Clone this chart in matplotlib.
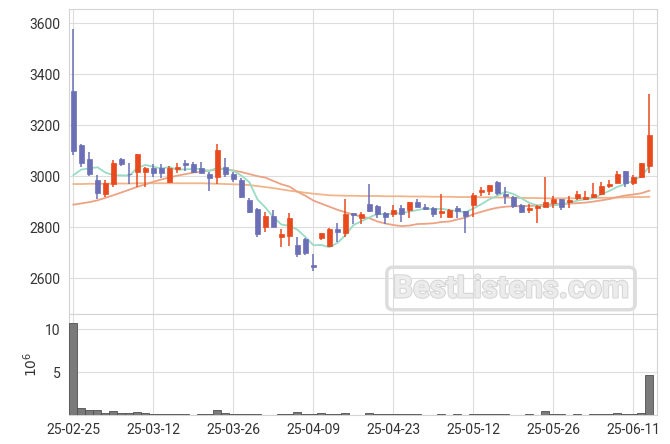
import numpy as np
import matplotlib.pyplot as plt
import matplotlib.patheffects as pe

plt.rcParams['font.family'] = ['Roboto', 'DejaVu Sans']

# trading days (yy-mm-dd)
dates = ['25-02-25', '25-02-26', '25-02-27', '25-02-28',
         '25-03-04', '25-03-05', '25-03-06', '25-03-07', '25-03-10', '25-03-11',
         '25-03-12', '25-03-13', '25-03-14', '25-03-17', '25-03-18', '25-03-19',
         '25-03-20', '25-03-21', '25-03-24', '25-03-25', '25-03-26', '25-03-27',
         '25-03-28', '25-03-31',
         '25-04-01', '25-04-02', '25-04-03', '25-04-04', '25-04-07', '25-04-08',
         '25-04-09', '25-04-10', '25-04-11', '25-04-14', '25-04-15', '25-04-16',
         '25-04-17', '25-04-18', '25-04-21', '25-04-22', '25-04-23', '25-04-24',
         '25-04-25', '25-04-28', '25-04-29', '25-04-30',
         '25-05-02', '25-05-07', '25-05-08', '25-05-09', '25-05-12', '25-05-13',
         '25-05-14', '25-05-15', '25-05-16', '25-05-19', '25-05-20', '25-05-21',
         '25-05-22', '25-05-23', '25-05-26', '25-05-27', '25-05-28', '25-05-29',
         '25-05-30',
         '25-06-02', '25-06-04', '25-06-05', '25-06-09', '25-06-10', '25-06-11',
         '25-06-12', '25-06-13']

opens = [3334, 3121, 3067, 2984, 2929, 2969, 3067, 3010, 3017, 3017,
         3033, 3033, 2978, 3028, 3052, 3047, 3030, 3008, 2997, 3034,
         3008, 2984, 2906, 2871, 2802, 2844, 2760, 2765, 2730, 2753,
         2651, 2756, 2726, 2792, 2778, 2854, 2837, 2890, 2882, 2854,
         2850, 2873, 2867, 2897, 2880, 2873, 2854, 2838, 2876, 2863,
         2886, 2939, 2942, 2976, 2931, 2919, 2886, 2867, 2874, 2880,
         2895, 2910, 2897, 2915, 2910, 2919, 2928, 2961, 2975, 3020,
         2975, 2997, 3040]
highs = [3576, 3125, 3095, 3004, 2984, 3063, 3072, 3050, 3088, 3035,
         3046, 3046, 3040, 3050, 3063, 3056, 3054, 3017, 3128, 3073,
         3017, 2991, 2913, 2875, 2858, 2867, 2791, 2854, 2760, 2757,
         2694, 2778, 2795, 2817, 2909, 2856, 2860, 2971, 2885, 2860,
         2886, 2886, 2900, 2909, 2889, 2877, 2928, 2872, 2882, 2865,
         2932, 2958, 2967, 2982, 2958, 2922, 2890, 2890, 2886, 2997,
         2923, 2912, 2923, 2941, 2941, 2975, 2978, 2984, 3020, 3020,
         3004, 3050, 3322]
lows = [3082, 3037, 3000, 2910, 2918, 2958, 3040, 2971, 2958, 2958,
        2997, 2991, 2975, 3011, 3021, 3011, 3011, 2942, 2971, 2997,
        2978, 2913, 2854, 2762, 2782, 2800, 2723, 2726, 2684, 2690,
        2629, 2749, 2723, 2742, 2762, 2812, 2811, 2860, 2835, 2811,
        2841, 2821, 2834, 2878, 2867, 2841, 2834, 2834, 2834, 2776,
        2841, 2922, 2926, 2926, 2889, 2876, 2854, 2854, 2815, 2878,
        2873, 2867, 2873, 2906, 2906, 2916, 2926, 2954, 2973, 2958,
        2965, 2991, 3011]
closes = [3098, 3052, 3010, 2935, 2974, 3050, 3046, 3007, 3086, 3033,
          3013, 3013, 3033, 3034, 3044, 3017, 3013, 2991, 3102, 3007,
          2990, 2919, 2860, 2771, 2844, 2802, 2773, 2837, 2693, 2699,
          2645, 2775, 2792, 2779, 2850, 2846, 2850, 2864, 2850, 2838,
          2869, 2850, 2897, 2880, 2871, 2851, 2863, 2869, 2863, 2845,
          2926, 2945, 2965, 2935, 2922, 2884, 2860, 2876, 2884, 2897,
          2910, 2880, 2906, 2929, 2919, 2929, 2963, 2971, 3007, 2975,
          2997, 3050, 3161]

ma5 = [3004, 3026, 3030, 3035, 3014, 3004, 3003, 3002, 3033, 3044,
       3037, 3030, 3036, 3025, 3027, 3028, 3028, 3020, 3033, 3026,
       3021, 3002, 2976, 2909, 2877, 2839, 2810, 2805, 2790, 2761,
       2729, 2730, 2721, 2738, 2768, 2808, 2823, 2838, 2852, 2850,
       2854, 2854, 2861, 2867, 2873, 2870, 2872, 2867, 2863, 2858,
       2873, 2890, 2909, 2923, 2939, 2930, 2913, 2895, 2885, 2880,
       2885, 2889, 2895, 2904, 2909, 2913, 2929, 2942, 2958, 2969,
       2983, 3000, 3038]
ma20 = [2888, 2893, 2898, 2905, 2915, 2925, 2936, 2947, 2958, 2968,
        2978, 2987, 2995, 3002, 3008, 3014, 3018, 3022, 3027, 3028,
        3022, 3016, 3008, 3000, 2994, 2981, 2968, 2959, 2939, 2923,
        2904, 2892, 2880, 2868, 2858, 2849, 2841, 2835, 2822, 2814,
        2808, 2804, 2806, 2812, 2813, 2815, 2820, 2822, 2830, 2837,
        2851, 2860, 2869, 2876, 2880, 2882, 2882, 2883, 2885, 2888,
        2890, 2891, 2892, 2894, 2896, 2900, 2905, 2910, 2918, 2924,
        2928, 2933, 2943]
ma60 = [2969, 2969, 2970, 2970, 2970, 2971, 2971, 2971, 2972, 2972,
        2972, 2972, 2972, 2972, 2972, 2972, 2972, 2971, 2970, 2969,
        2968, 2967, 2965, 2961, 2957, 2953, 2948, 2943, 2939, 2935,
        2931, 2928, 2925, 2924, 2923, 2923, 2922, 2922, 2922, 2921,
        2921, 2921, 2920, 2920, 2920, 2919, 2919, 2919, 2918, 2918,
        2918, 2917, 2917, 2916, 2916, 2915, 2915, 2914, 2914, 2913,
        2913, 2913, 2913, 2913, 2914, 2914, 2915, 2915, 2916, 2917,
        2918, 2918, 2919]

# volume, millions
volume = [10.7, 0.8, 0.6, 0.6, 0.25, 0.5, 0.25, 0.25, 0.35, 0.25,
          0.1, 0.1, 0.1, 0.1, 0.1, 0.0, 0.1, 0.1, 0.6, 0.25,
          0.1, 0.1, 0.1, 0.1, 0.0, 0.0, 0.1, 0.1, 0.35, 0.1,
          0.1, 0.2, 0.1, 0.1, 0.2, 0.0, 0.0, 0.2, 0.1, 0.1,
          0.1, 0.1, 0.1, 0.1, 0.0, 0.0, 0.1, 0.0, 0.1, 0.0,
          0.1, 0.1, 0.1, 0.1, 0.1, 0.0, 0.0, 0.1, 0.0, 0.5,
          0.1, 0.1, 0.0, 0.1, 0.0, 0.1, 0.1, 0.1, 0.2, 0.1,
          0.1, 0.2, 4.7]

UP = '#e8491d'
DOWN = '#6b6fb5'

x = np.arange(len(dates))
o = np.array(opens); c = np.array(closes)
colors = [UP if cc >= oo else DOWN for oo, cc in zip(o, c)]

fig = plt.figure(figsize=(6.7, 4.44), dpi=100)
ax = fig.add_axes([0.103, 0.2928, 0.8776, 0.6870])
axv = fig.add_axes([0.103, 0.0653, 0.8776, 0.2275], sharex=ax)

# candles
ax.vlines(x, lows, highs, colors=colors, linewidth=1.1, zorder=3)
body = np.maximum(np.abs(c - o), 2)
ax.bar(x, body, bottom=np.minimum(o, c), width=0.62, color=colors,
       edgecolor=colors, linewidth=0.5, zorder=4)

ax.plot(x, ma60, color='#f2b48a', lw=1.3, zorder=2)
ax.plot(x, ma20, color='#eba383', lw=1.3, zorder=2)
ax.plot(x, ma5, color='#99dcc4', lw=1.3, zorder=2)

ax.set_ylim(2459, 3656)
ax.set_yticks([2600, 2800, 3000, 3200, 3400, 3600])
ax.set_xlim(-0.55, 72.95)

axv.bar(x, volume, width=1.0, color='#7a7a7a', edgecolor='#505050',
        linewidth=0.6, zorder=3)
axv.set_ylim(0, 11.8)
axv.set_yticks([5, 10])
axv.set_ylabel(r'$10^6$', fontsize=10, color='#333333', labelpad=4)

tick_pos = x[::10]
axv.set_xticks(tick_pos)
axv.set_xticklabels([dates[i] for i in tick_pos])
plt.setp(ax.get_xticklabels(), visible=False)

for a in (ax, axv):
    a.grid(True, color='#dddddd', linewidth=0.8, zorder=0)
    a.set_axisbelow(True)
    for s in a.spines.values():
        s.set_color('#d4d4d4')
        s.set_linewidth(0.8)
    a.tick_params(length=0, labelsize=10, labelcolor='#333333', pad=6)

# watermark
fig.text(0.7627, 0.3502, 'BestListens.com', fontsize=22.5, fontweight='bold',
         color='#ececec', ha='center', va='center', zorder=10,
         path_effects=[pe.withStroke(linewidth=1.5, foreground='#d6d6d6')],
         bbox=dict(boxstyle='round,pad=0.2', facecolor='none',
                   edgecolor='#dddddd', linewidth=2.5))

fig.savefig('out.png', dpi=100)
